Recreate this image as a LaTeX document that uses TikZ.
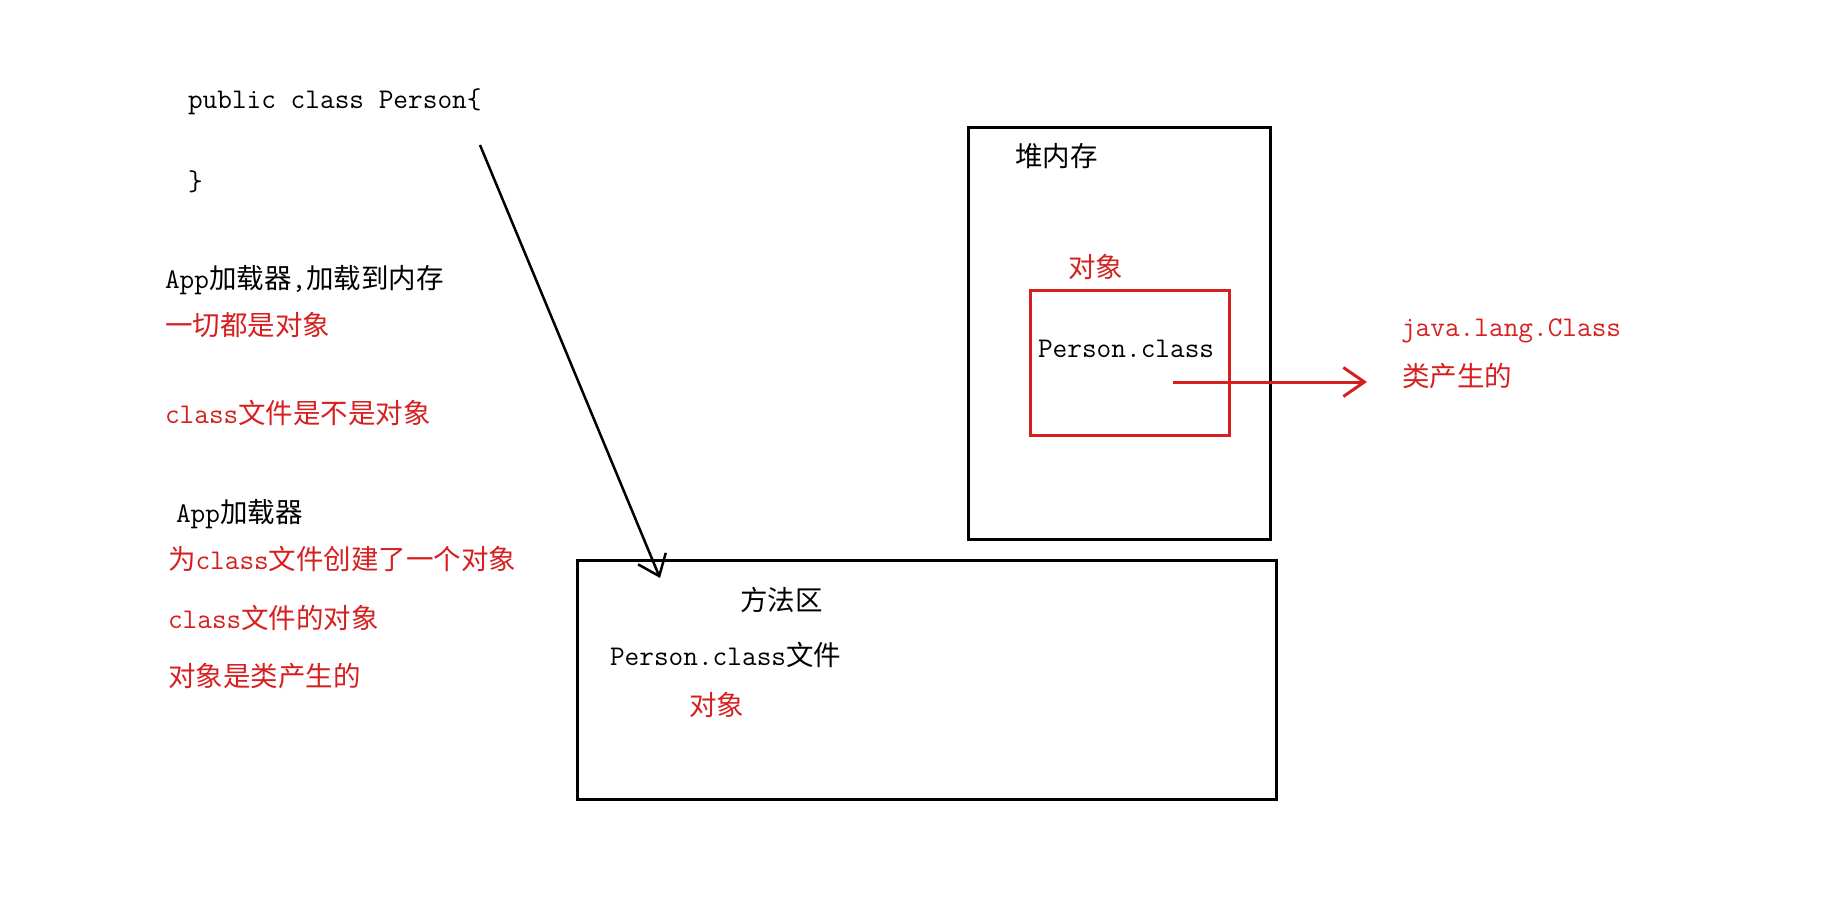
\documentclass[tikz,border=0pt]{standalone}
\usepackage{fontspec}
\newfontfamily\cjk{Noto Sans CJK SC}
\usetikzlibrary{arrows.meta}
\definecolor{myred}{RGB}{214,32,32}
\newcommand\C[1]{{\fontsize{27.5}{28}\cjk #1}}
\begin{document}
\begin{tikzpicture}[x=1pt,y=-1pt,
  txt/.style={anchor=base west,inner sep=0pt,outer sep=0pt,font=\fontsize{28.5}{30}\ttfamily},
  rtxt/.style={txt,text=myred},
  blackbox/.style={draw=black,line width=3pt},
  redbox/.style={draw=myred,line width=3pt},
  barrow/.style={line width=2.5pt,-{Straight Barb[length=19pt,width=30pt,line width=2.5pt]}},
  rarrow/.style={draw=myred,line width=3pt,-{Straight Barb[length=21pt,width=29pt,line width=3pt]}}]
\useasboundingbox (0,0) rectangle (1848,912);
\fill[white] (0,0) rectangle (1848,912);
% left text
\node[txt] (pub) at (188,109) {public class Person\{};
\node[txt] (brace) at (188,191) {\}};
\node[txt] (app1) at (165,288) {App\C{加载器},\C{加载到内存}};
\node[rtxt] (all) at (165,335) {\C{一切都是对象}};
\node[rtxt] (cls) at (165,423) {class\C{文件是不是对象}};
\node[txt] (app2) at (176,522) {App\C{加载器}};
\node[rtxt] (wei) at (168,569) {\C{为}class\C{文件创建了一个对象}};
\node[rtxt] (clsobj) at (168,628) {class\C{文件的对象}};
\node[rtxt] (objcls) at (168,686) {\C{对象是类产生的}};
% heap
\draw[blackbox] (968,128) rectangle (1270,539);
\node[txt] (heapt) at (1015,167) {\C{堆内存}};
\node[rtxt] (heapo) at (1068,277) {\C{对象}};
\draw[redbox] (1030,290) rectangle (1229,435);
\node[txt] (pc) at (1038,357) {Person.class};
\node[rtxt] (jlc) at (1401,336) {java.lang.Class};
\node[rtxt] (lei) at (1402,386) {\C{类产生的}};
% method area
\draw[blackbox] (577,560) rectangle (1276,799);
\node[txt] (ff) at (740,610) {\C{方法区}};
\node[txt] (pcf) at (610,665) {Person.class\C{文件}};
\node[rtxt] (mobj) at (689,715) {\C{对象}};
% arrows
\coordinate (a1) at (480,145);
\coordinate (a2) at (660,578);
\draw[barrow] (a1) -- (a2);
\coordinate (r1) at (1173,382);
\coordinate (r2) at (1367,382);
\draw[rarrow] (r1) -- (r2);
\end{tikzpicture}
\end{document}
